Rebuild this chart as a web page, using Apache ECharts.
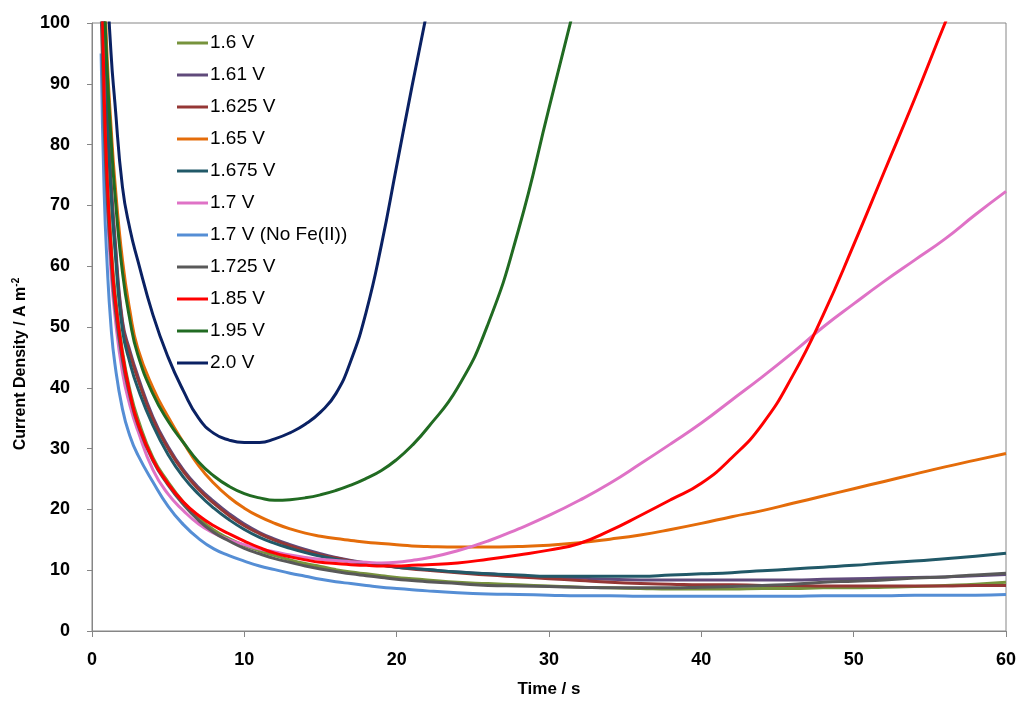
<!DOCTYPE html>
<html>
<head>
<meta charset="utf-8">
<title>Current Density vs Time</title>
<script src="https://cdn.jsdelivr.net/npm/echarts@6/dist/echarts.min.js"></script>
<style>
  html, body { margin: 0; padding: 0; background: #fff; }
  #main { width: 1020px; height: 703px; }
</style>
</head>
<body>
<div id="main"></div>
<script>
// time points (s), shared by all curves
const times = [0.6, 0.8, 1, 1.25, 1.5, 2, 2.5, 3, 4, 5, 6, 7, 8, 9, 10, 11, 12, 13, 14, 15, 16, 17, 18, 19, 20, 21, 22,
  24, 26, 28, 30, 32, 34, 36, 38, 40, 42, 44, 46, 48, 50, 52, 54, 56, 58, 60];

// current density (A m-2); null = off the chart
const v1600 = [108, 88, 75, 64, 56, 46, 39.5, 35, 28.5, 24.5, 21.2, 18.6, 16.6, 15.2, 14.1, 13.2, 12.4, 11.7, 11.1, 10.6, 10.1, 9.7, 9.4, 9.1, 8.8, 8.6, 8.4,
  8.0, 7.8, 7.6, 7.4, 7.2, 7.1, 7.0, 6.9, 6.9, 6.9, 7.0, 7.0, 7.1, 7.1, 7.2, 7.3, 7.5, 7.7, 8.0];
const v1610 = [125, 100, 86, 74, 65, 51, 46, 42, 35.2, 30.3, 26.5, 23.6, 21.3, 19.3, 17.6, 16.2, 15.1, 14.2, 13.4, 12.7, 12.1, 11.6, 11.2, 10.9, 10.6, 10.3, 10.1,
  9.7, 9.4, 9.1, 8.9, 8.7, 8.5, 8.4, 8.4, 8.4, 8.4, 8.4, 8.4, 8.5, 8.6, 8.7, 8.8, 8.9, 9.1, 9.3];
const v1625 = [125, 99, 85, 73, 64, 50.5, 45.5, 41.5, 34.8, 30, 26.2, 23.3, 21, 19, 17.3, 16, 14.9, 14, 13.2, 12.5, 12, 11.5, 11.1, 10.8, 10.5, 10.2, 10,
  9.6, 9.2, 8.9, 8.6, 8.3, 8.0, 7.8, 7.7, 7.6, 7.6, 7.5, 7.5, 7.4, 7.4, 7.4, 7.4, 7.4, 7.5, 7.5];
const v1650 = [130, 108, 94, 83, 74, 61, 52.5, 46.5, 40, 35.2, 31, 27.2, 24.3, 22, 20.2, 18.8, 17.7, 16.8, 16.1, 15.6, 15.2, 14.9, 14.6, 14.4, 14.2, 14.0, 13.9,
  13.8, 13.8, 13.9, 14.1, 14.5, 15.1, 15.8, 16.7, 17.7, 18.8, 19.8, 21, 22.2, 23.4, 24.6, 25.8, 27, 28.1, 29.2];
const v1675 = [122, 97, 84, 72, 63, 49.5, 44, 40, 33.8, 29, 25.3, 22.5, 20.2, 18.3, 16.7, 15.4, 14.4, 13.6, 12.9, 12.3, 11.8, 11.4, 11.1, 10.8, 10.5, 10.3, 10.1,
  9.7, 9.4, 9.2, 9.0, 9.0, 9.0, 9.0, 9.2, 9.4, 9.6, 9.9, 10.2, 10.5, 10.8, 11.2, 11.5, 11.9, 12.3, 12.8];
const v1700 = [112, 86, 70, 59, 52, 42.5, 37, 33, 26.5, 22.5, 19.8, 17.6, 16.1, 15, 14.2, 13.5, 13, 12.5, 12.1, 11.8, 11.6, 11.4, 11.3, 11.2, 11.3, 11.6, 12,
  13.2, 14.8, 16.8, 19, 21.5, 24.3, 27.5, 30.8, 34.2, 38, 41.8, 45.8, 50, 53.8, 57.5, 61, 64.5, 68.5, 72.3];
const v1700NoFe = [95, 72, 60, 50, 44, 36.5, 32, 29, 24.5, 20.5, 17.5, 15.2, 13.5, 12.4, 11.5, 10.7, 10.1, 9.5, 9.0, 8.5, 8.1, 7.8, 7.5, 7.2, 7.0, 6.8, 6.6,
  6.3, 6.1, 6.0, 5.9, 5.8, 5.8, 5.7, 5.7, 5.7, 5.7, 5.7, 5.7, 5.8, 5.8, 5.8, 5.9, 5.9, 5.9, 6.0];
const v1725 = [102, 83, 71, 61, 53.5, 44.5, 38.5, 34, 28, 24, 20.8, 18.2, 16.2, 14.8, 13.6, 12.7, 11.9, 11.3, 10.7, 10.2, 9.8, 9.4, 9.1, 8.8, 8.5, 8.3, 8.1,
  7.8, 7.5, 7.4, 7.3, 7.2, 7.1, 7.1, 7.1, 7.2, 7.3, 7.5, 7.7, 8.0, 8.2, 8.4, 8.7, 8.9, 9.2, 9.5];
const v1850 = [112, 88, 74, 63, 55, 45.5, 39, 34.3, 28.2, 24.2, 21.2, 19, 17.3, 16, 14.8, 13.7, 12.8, 12.2, 11.7, 11.3, 11.1, 10.9, 10.8, 10.7, 10.7, 10.8, 10.9,
  11.2, 11.8, 12.5, 13.3, 14.4, 16.5, 19, 21.6, 24.3, 28.5, 34, 42, 52, 63.5, 75.5, 87.5, 100, 112, null];
const v1950 = [140, 106, 92, 81, 72, 59, 51, 45.5, 39, 34.5, 31, 27.8, 25.5, 23.8, 22.6, 21.9, 21.5, 21.6, 21.9, 22.4, 23.1, 24, 25.1, 26.4, 28.2, 30.5, 33.3,
  40, 50.5, 66, 86, 106, null, null, null, null, null, null, null, null, null, null, null, null, null, null];
const v2000 = [null, 135, 108, 95, 87, 73, 66, 61, 52, 45, 39.5, 35, 32.5, 31.4, 31, 31, 31.6, 32.6, 34, 36, 39, 44.5, 52.5, 63.5, 76.5, 89.5, 102,
  null, null, null, null, null, null, null, null, null, null, null, null, null, null, null, null, null, null, null];

const names = ['1.6 V', '1.61 V', '1.625 V', '1.65 V', '1.675 V', '1.7 V', '1.7 V (No Fe(II))', '1.725 V', '1.85 V', '1.95 V', '2.0 V'];
const values = [v1600, v1610, v1625, v1650, v1675, v1700, v1700NoFe, v1725, v1850, v1950, v2000];
const colors = ['#77933C', '#604A7B', '#953735', '#E46C0A', '#215968', '#DF72C6', '#558ED5', '#595959', '#FF0000', '#216B22', '#0A2163'];

const FONT = '"Liberation Sans", Arial, sans-serif';

let myChart = echarts.init(document.getElementById('main'));

let series = names.map((n, k) => ({
  name: n,
  type: 'line',
  data: times.map((t, i) => [t, values[k][i] == null ? '-' : values[k][i]]),
  showSymbol: false,
  symbol: 'none',
  smooth: 0.5,
  clip: true,
  lineStyle: { color: colors[k], width: 3 },
  itemStyle: { color: colors[k] }
}));

let option = {
  animation: false,
  backgroundColor: '#fff',
  grid: {
    left: 92, right: 14, top: 23, bottom: 70,
    show: true, borderColor: '#868686', borderWidth: 1
  },
  legend: {
    orient: 'vertical',
    left: 172,
    top: 28,
    icon: 'rect',
    itemWidth: 31,
    itemHeight: 3,
    itemGap: 12,
    data: names,
    textStyle: { fontFamily: FONT, fontSize: 19, color: '#000', lineHeight: 20, padding: [0, 0, 0, -3] }
  },
  xAxis: {
    type: 'value',
    min: 0, max: 60, interval: 10,
    name: 'Time / s',
    nameLocation: 'middle',
    nameGap: 50,
    nameTextStyle: { fontFamily: FONT, fontSize: 17, fontWeight: 'bold', color: '#000' },
    axisLine: { lineStyle: { color: '#868686', width: 1 } },
    axisTick: { show: true, length: 6, lineStyle: { color: '#868686' } },
    axisLabel: { margin: 20, fontFamily: FONT, fontSize: 18, fontWeight: 'bold', color: '#000' },
    splitLine: { show: false }
  },
  yAxis: {
    type: 'value',
    min: 0, max: 100, interval: 10,
    axisLine: { show: true, lineStyle: { color: '#868686', width: 1 } },
    axisTick: { show: true, length: 5, lineStyle: { color: '#868686' } },
    axisLabel: { margin: 22, fontFamily: FONT, fontSize: 18, fontWeight: 'bold', color: '#000' },
    splitLine: { show: false }
  },
  graphic: [{
    type: 'text',
    x: 20,
    y: 364,
    rotation: Math.PI / 2,
    style: {
      text: '{a|Current Density / A m}{b|-2}',
      align: 'center',
      verticalAlign: 'middle',
      rich: {
        a: { fontFamily: FONT, fontSize: 16, fontWeight: 'bold', fill: '#000', verticalAlign: 'bottom' },
        b: { fontFamily: FONT, fontSize: 10, fontWeight: 'bold', fill: '#000', verticalAlign: 'top', padding: [0, 0, 8, 0] }
      }
    }
  }],
  series: series
};

myChart.setOption(option);
</script>
</body>
</html>
